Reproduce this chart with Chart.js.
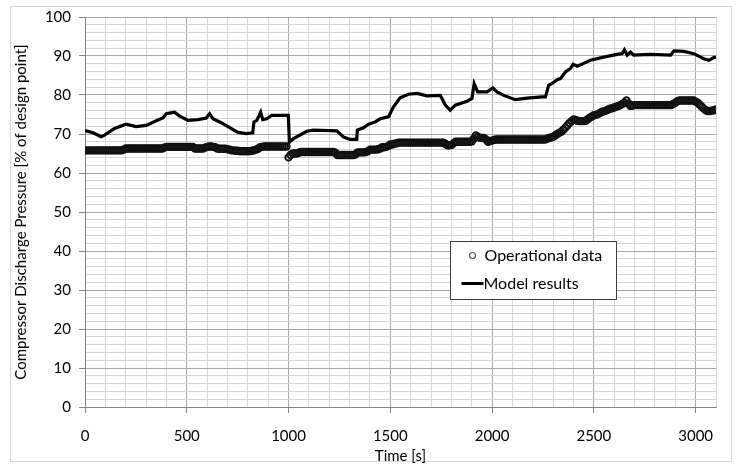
<!DOCTYPE html>
<html>
<head>
<meta charset="utf-8">
<script src="https://cdn.jsdelivr.net/npm/chart.js@4/dist/chart.umd.min.js"></script>
<style>
  html, body { margin: 0; padding: 0; background: #fff; }
  #wrap { width: 737px; height: 466px; }
</style>
</head>
<body>
<div id="wrap"><canvas id="c" width="737" height="466"></canvas></div>
<script>
// ---- Data ----
const modelTime = [0, 40, 79, 96, 145, 202, 251, 301, 358, 383, 399, 440, 465, 506, 555, 596, 612, 629, 669, 719,
  752, 792, 824, 830, 844, 863, 873, 893, 917, 999, 1004, 1024, 1090, 1122, 1237, 1270, 1303, 1335, 1338, 1368,
  1393, 1426, 1450, 1491, 1515, 1548, 1589, 1631, 1680, 1745, 1754, 1770, 1794, 1819, 1877, 1901, 1912, 1929, 1975, 2004,
  2024, 2057, 2114, 2172, 2245, 2262, 2278, 2302, 2319, 2336, 2360, 2385, 2398, 2418, 2450, 2483, 2548, 2614, 2639, 2650,
  2664, 2680, 2696, 2778, 2877, 2893, 2942, 2991, 3040, 3065, 3089, 3100];
const modelValue = [70.9, 70.3, 69.3, 69.7, 71.4, 72.5, 71.9, 72.2, 73.6, 74.1, 75.2, 75.6, 74.6, 73.5, 73.7, 74.1, 75.2, 73.9, 72.9, 71.4,
  70.4, 70.1, 70.3, 73.1, 73.5, 75.6, 73.7, 73.9, 74.8, 74.8, 67.9, 68.8, 70.7, 71.0, 70.8, 69.2, 68.6, 68.6, 71.0, 71.6,
  72.5, 73.1, 73.9, 74.4, 76.9, 79.3, 80.2, 80.4, 79.8, 79.9, 79.1, 77.4, 76.1, 77.4, 78.4, 79.1, 82.9, 80.8, 80.8, 81.8,
  80.8, 79.9, 78.8, 79.2, 79.5, 79.5, 82.5, 83.2, 83.9, 84.2, 85.9, 86.8, 87.9, 87.4, 88.1, 88.9, 89.7, 90.4, 90.6, 91.6,
  90.2, 91.0, 90.2, 90.4, 90.2, 91.3, 91.2, 90.6, 89.3, 88.9, 89.6, 89.7];

const opTime = [
  0, 10, 20, 30, 40, 50, 60, 70, 80, 90,
  100, 110, 120, 130, 140, 150, 160, 170, 180, 190,
  200, 210, 220, 230, 240, 250, 260, 270, 280, 290,
  300, 310, 320, 330, 340, 350, 360, 370, 380, 390,
  400, 410, 420, 430, 440, 450, 460, 470, 480, 490,
  500, 510, 520, 530, 540, 550, 560, 570, 580, 590,
  600, 610, 620, 630, 640, 650, 660, 670, 680, 690,
  700, 710, 720, 730, 740, 750, 760, 770, 780, 790,
  800, 810, 820, 830, 840, 850, 860, 870, 880, 890,
  900, 910, 920, 930, 940, 950, 960, 970, 980, 990,
  1000, 1010, 1020, 1030, 1040, 1050, 1060, 1070, 1080, 1090,
  1100, 1110, 1120, 1130, 1140, 1150, 1160, 1170, 1180, 1190,
  1200, 1210, 1220, 1230, 1240, 1250, 1260, 1270, 1280, 1290,
  1300, 1310, 1320, 1330, 1340, 1350, 1360, 1370, 1380, 1390,
  1400, 1410, 1420, 1430, 1440, 1450, 1460, 1470, 1480, 1490,
  1500, 1510, 1520, 1530, 1540, 1550, 1560, 1570, 1580, 1590,
  1600, 1610, 1620, 1630, 1640, 1650, 1660, 1670, 1680, 1690,
  1700, 1710, 1720, 1730, 1740, 1750, 1760, 1770, 1780, 1790,
  1800, 1810, 1820, 1830, 1840, 1850, 1860, 1870, 1880, 1890,
  1900, 1910, 1920, 1930, 1940, 1950, 1960, 1970, 1980, 1990,
  2000, 2010, 2020, 2030, 2040, 2050, 2060, 2070, 2080, 2090,
  2100, 2110, 2120, 2130, 2140, 2150, 2160, 2170, 2180, 2190,
  2200, 2210, 2220, 2230, 2240, 2250, 2260, 2270, 2280, 2290,
  2300, 2310, 2320, 2330, 2340, 2350, 2360, 2370, 2380, 2390,
  2400, 2410, 2420, 2430, 2440, 2450, 2460, 2470, 2480, 2490,
  2500, 2510, 2520, 2530, 2540, 2550, 2560, 2570, 2580, 2590,
  2600, 2610, 2620, 2630, 2640, 2650, 2660, 2670, 2680, 2690,
  2700, 2710, 2720, 2730, 2740, 2750, 2760, 2770, 2780, 2790,
  2800, 2810, 2820, 2830, 2840, 2850, 2860, 2870, 2880, 2890,
  2900, 2910, 2920, 2930, 2940, 2950, 2960, 2970, 2980, 2990,
  3000, 3010, 3020, 3030, 3040, 3050, 3060, 3070, 3080, 3090,
  3100];
const opValue = [
  65.8, 65.8, 65.8, 65.8, 65.8, 65.8, 65.8, 65.8, 65.8, 65.8,
  65.8, 65.8, 65.8, 65.8, 65.8, 65.8, 65.8, 65.8, 65.8, 66.0,
  66.3, 66.3, 66.3, 66.3, 66.3, 66.3, 66.3, 66.3, 66.3, 66.3,
  66.3, 66.3, 66.3, 66.3, 66.3, 66.3, 66.3, 66.3, 66.3, 66.5,
  66.7, 66.7, 66.7, 66.7, 66.7, 66.7, 66.7, 66.7, 66.7, 66.7,
  66.7, 66.7, 66.7, 66.7, 66.3, 66.3, 66.3, 66.3, 66.3, 66.5,
  66.7, 66.8, 66.8, 66.7, 66.6, 66.3, 66.2, 66.2, 66.2, 66.2,
  66.1, 66.0, 65.8, 65.8, 65.7, 65.7, 65.6, 65.6, 65.6, 65.6,
  65.6, 65.6, 65.7, 65.8, 66.0, 66.2, 66.6, 66.7, 66.8, 66.8,
  66.8, 66.8, 66.8, 66.8, 66.8, 66.8, 66.8, 66.8, 66.8, 66.8,
  64.0, 64.6, 65.0, 65.0, 65.0, 65.2, 65.4, 65.4, 65.4, 65.4,
  65.4, 65.4, 65.4, 65.4, 65.4, 65.4, 65.4, 65.4, 65.4, 65.4,
  65.4, 65.4, 65.4, 65.2, 64.6, 64.6, 64.6, 64.6, 64.6, 64.6,
  64.6, 64.6, 64.6, 64.8, 65.3, 65.3, 65.3, 65.3, 65.4, 65.6,
  66.0, 66.0, 66.0, 66.0, 66.1, 66.3, 66.6, 66.6, 66.7, 66.9,
  67.3, 67.3, 67.5, 67.6, 67.8, 67.8, 67.8, 67.8, 67.8, 67.8,
  67.8, 67.8, 67.8, 67.8, 67.8, 67.8, 67.8, 67.8, 67.8, 67.8,
  67.8, 67.8, 67.8, 67.8, 67.8, 67.8, 67.8, 67.5, 67.1, 67.1,
  67.2, 67.6, 68.0, 68.0, 68.0, 68.0, 68.0, 68.0, 68.0, 68.0,
  68.1, 68.8, 69.6, 69.3, 69.0, 69.0, 69.0, 68.6, 68.0, 68.2,
  68.3, 68.5, 68.6, 68.6, 68.6, 68.6, 68.6, 68.6, 68.6, 68.6,
  68.6, 68.6, 68.6, 68.6, 68.6, 68.6, 68.6, 68.6, 68.6, 68.6,
  68.6, 68.6, 68.6, 68.6, 68.6, 68.6, 68.6, 68.8, 69.0, 69.1,
  69.3, 69.6, 70.0, 70.3, 70.6, 71.1, 71.6, 72.2, 72.8, 73.3,
  73.7, 73.6, 73.4, 73.3, 73.3, 73.3, 73.4, 73.8, 74.2, 74.5,
  74.8, 74.9, 75.1, 75.4, 75.7, 75.8, 76.0, 76.3, 76.5, 76.6,
  76.8, 77.0, 77.2, 77.4, 77.7, 78.0, 78.6, 77.8, 77.2, 77.3,
  77.4, 77.4, 77.4, 77.4, 77.4, 77.4, 77.4, 77.4, 77.4, 77.4,
  77.4, 77.4, 77.4, 77.4, 77.4, 77.4, 77.4, 77.4, 77.4, 77.7,
  78.0, 78.4, 78.6, 78.6, 78.6, 78.6, 78.6, 78.6, 78.6, 78.6,
  78.3, 78.0, 77.5, 77.0, 76.5, 76.1, 75.9, 75.9, 76.0, 76.1,
  76.3];

const xTickLabels = [0, 500, 1000, 1500, 2000, 2500, 3000];
const yTickLabels = [0, 10, 20, 30, 40, 50, 60, 70, 80, 90, 100];

const seriesNames = ['Operational data', 'Model results'];
const xTitle = 'Time [s]';
const yTitle = 'Compressor Discharge Pressure [% of design point]';

// ---- Styling ----
const FONT = 'Lato';
const isMajorX = v => xTickLabels.includes(v);
const isMajorY = v => yTickLabels.includes(v);

const framePlugin = {
  id: 'frame',
  beforeDraw(chart) {
    const ctx = chart.ctx;
    ctx.save();
    ctx.fillStyle = '#ffffff';
    ctx.fillRect(0, 0, chart.width, chart.height);
    ctx.strokeStyle = '#d9d9d9';
    ctx.lineWidth = 1;
    ctx.strokeRect(10.5, 6.5, 721, 455);
    ctx.restore();
  }
};

const legendPlugin = {
  id: 'boxLegend',
  afterDraw(chart) {
    const ctx = chart.ctx;
    const left = 450.5, right = 616.5, top = 241.5, bottom = 299.5;
    ctx.save();
    ctx.fillStyle = '#ffffff';
    ctx.fillRect(left, top, right - left, bottom - top);
    ctx.strokeStyle = '#404040';
    ctx.lineWidth = 1;
    ctx.strokeRect(left, top, right - left, bottom - top);
    const r1 = top + 14, r2 = top + 42;
    ctx.beginPath();
    ctx.arc(left + 22, r1, 3, 0, Math.PI * 2);
    ctx.strokeStyle = '#555555';
    ctx.lineWidth = 1.2;
    ctx.stroke();
    ctx.beginPath();
    ctx.moveTo(left + 11, r2);
    ctx.lineTo(left + 33, r2);
    ctx.strokeStyle = '#000000';
    ctx.lineWidth = 3;
    ctx.stroke();
    ctx.fillStyle = '#000000';
    ctx.font = '16px ' + FONT;
    ctx.textBaseline = 'middle';
    ctx.textAlign = 'left';
    ctx.fillText(seriesNames[0], left + 34, r1);
    ctx.fillText(seriesNames[1], left + 33, r2);
    ctx.restore();
  }
};

new Chart(document.getElementById('c'), {
  type: 'scatter',
  data: {
    datasets: [
      {
        label: seriesNames[1],
        data: modelTime.map((t, i) => ({ x: t, y: modelValue[i] })),
        showLine: true,
        borderColor: '#000000',
        borderWidth: 3.2,
        pointRadius: 0,
        tension: 0,
        order: 0
      },
      {
        label: seriesNames[0],
        data: opTime.map((t, i) => ({ x: t, y: opValue[i] })),
        showLine: false,
        pointRadius: 3.2,
        pointBorderWidth: 2,
        pointBorderColor: '#111111',
        pointBackgroundColor: 'rgba(0,0,0,0)',
        order: 1
      }
    ]
  },
  options: {
    responsive: false,
    animation: false,
    devicePixelRatio: 1,
    layout: { padding: { left: 0, right: 21, top: 17, bottom: 0 } },
    plugins: { legend: { display: false }, tooltip: { enabled: false } },
    scales: {
      x: {
        type: 'linear',
        min: 0, max: 3100,
        afterFit: s => { s.height = 59; },
        ticks: {
          stepSize: 100, autoSkip: false, maxRotation: 0, minRotation: 0,
          padding: 14,
          color: '#000000',
          font: { family: FONT, size: 15 },
          callback: v => isMajorX(v) ? String(v) : ''
        },
        grid: {
          color: c => (c.tick && isMajorX(c.tick.value)) ? '#a8a8a8' : '#d6d6d6',
          tickColor: c => (c.tick && isMajorX(c.tick.value)) ? '#868686' : 'rgba(0,0,0,0)',
          tickLength: 6,
          lineWidth: 1
        },
        border: { color: '#868686', width: 1 },
        title: {
          display: true, text: xTitle, color: '#000000',
          font: { family: FONT, size: 15 },
          padding: { top: 0, bottom: 1 }
        }
      },
      y: {
        type: 'linear',
        min: 0, max: 100,
        afterFit: s => { s.width = 85; },
        ticks: {
          stepSize: 2, autoSkip: false,
          padding: 8,
          color: '#000000',
          font: { family: FONT, size: 15 },
          callback: v => isMajorY(v) ? String(v) : ''
        },
        grid: {
          color: c => (c.tick && isMajorY(c.tick.value)) ? '#a8a8a8' : '#d6d6d6',
          tickColor: c => (c.tick && isMajorY(c.tick.value)) ? '#868686' : 'rgba(0,0,0,0)',
          tickLength: 6,
          lineWidth: 1
        },
        border: { color: '#868686', width: 1 },
        title: {
          display: true, text: yTitle, color: '#000000',
          font: { family: FONT, size: 15 },
          padding: { top: 12, bottom: 0 }
        }
      }
    }
  },
  plugins: [framePlugin, legendPlugin]
});
</script>
</body>
</html>
